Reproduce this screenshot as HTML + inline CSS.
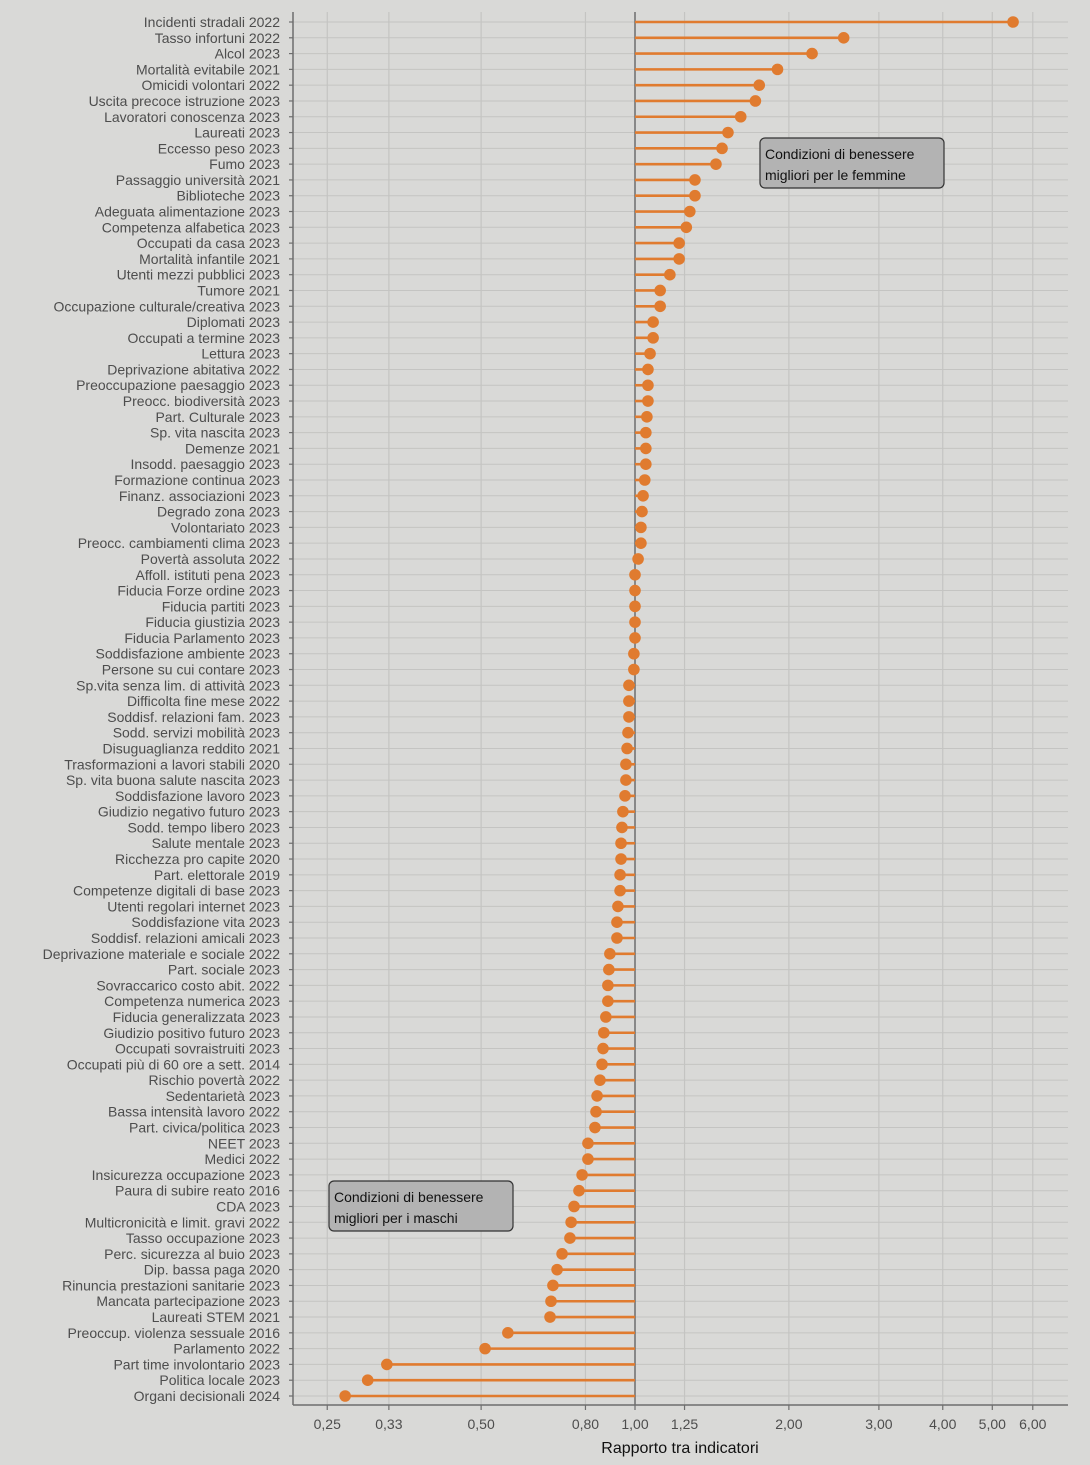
<!DOCTYPE html>
<html><head><meta charset="utf-8"><style>
html,body{margin:0;padding:0;background:#d9d9d7;}
svg{display:block;font-family:"Liberation Sans",sans-serif;}
</style></head><body>
<svg id="chart" width="1090" height="1465" viewBox="0 0 1090 1465">
<rect width="1090" height="1465" fill="#d9d9d7"/>
<g id="grid"></g><g id="marks"></g><g id="axes"></g>
</svg>
<script>
const categories=["Incidenti stradali 2022","Tasso infortuni 2022","Alcol 2023","Mortalità evitabile 2021","Omicidi volontari 2022","Uscita precoce istruzione 2023","Lavoratori conoscenza 2023","Laureati 2023","Eccesso peso 2023","Fumo 2023","Passaggio università 2021","Biblioteche 2023","Adeguata alimentazione 2023","Competenza alfabetica 2023","Occupati da casa 2023","Mortalità infantile 2021","Utenti mezzi pubblici 2023","Tumore 2021","Occupazione culturale/creativa 2023","Diplomati 2023","Occupati a termine 2023","Lettura 2023","Deprivazione abitativa 2022","Preoccupazione paesaggio 2023","Preocc. biodiversità 2023","Part. Culturale 2023","Sp. vita nascita 2023","Demenze 2021","Insodd. paesaggio 2023","Formazione continua 2023","Finanz. associazioni 2023","Degrado zona 2023","Volontariato 2023","Preocc. cambiamenti clima 2023","Povertà assoluta 2022","Affoll. istituti pena 2023","Fiducia Forze ordine 2023","Fiducia partiti 2023","Fiducia giustizia 2023","Fiducia Parlamento 2023","Soddisfazione ambiente 2023","Persone su cui contare 2023","Sp.vita senza lim. di attività 2023","Difficolta fine mese 2022","Soddisf. relazioni fam. 2023","Sodd. servizi mobilità 2023","Disuguaglianza reddito 2021","Trasformazioni a lavori stabili 2020","Sp. vita buona salute nascita 2023","Soddisfazione lavoro 2023","Giudizio negativo futuro 2023","Sodd. tempo libero 2023","Salute mentale 2023","Ricchezza pro capite 2020","Part.  elettorale 2019","Competenze digitali di base 2023","Utenti regolari internet 2023","Soddisfazione vita 2023","Soddisf. relazioni amicali 2023","Deprivazione materiale e sociale 2022","Part. sociale 2023","Sovraccarico costo abit. 2022","Competenza numerica 2023","Fiducia generalizzata 2023","Giudizio positivo futuro 2023","Occupati sovraistruiti 2023","Occupati più di 60 ore a sett. 2014","Rischio povertà 2022","Sedentarietà 2023","Bassa intensità lavoro 2022","Part. civica/politica 2023","NEET 2023","Medici 2022","Insicurezza occupazione 2023","Paura di subire reato 2016","CDA 2023","Multicronicità e limit. gravi 2022","Tasso occupazione 2023","Perc. sicurezza al buio 2023","Dip. bassa paga 2020","Rinuncia prestazioni sanitarie 2023","Mancata partecipazione 2023","Laureati STEM 2021","Preoccup. violenza sessuale 2016","Parlamento 2022","Part time involontario 2023","Politica locale 2023","Organi decisionali 2024"];
const values=[5.49,2.56,2.22,1.90,1.75,1.72,1.61,1.52,1.48,1.44,1.31,1.31,1.28,1.26,1.22,1.22,1.17,1.12,1.12,1.085,1.085,1.07,1.06,1.06,1.06,1.055,1.05,1.05,1.05,1.045,1.037,1.032,1.027,1.027,1.014,1.0,1.0,1.0,1.0,1.0,0.995,0.995,0.973,0.973,0.973,0.969,0.965,0.96,0.96,0.956,0.947,0.943,0.939,0.939,0.935,0.935,0.926,0.922,0.922,0.893,0.889,0.885,0.885,0.877,0.869,0.866,0.862,0.854,0.843,0.839,0.835,0.809,0.809,0.788,0.777,0.760,0.750,0.746,0.720,0.704,0.691,0.685,0.682,0.564,0.509,0.327,0.300,0.271];
const tickValues=[0.25,0.33,0.5,0.8,1,1.25,2,3,4,5,6];
const tickLabels=["0,25","0,33","0,50","0,80","1,00","1,25","2,00","3,00","4,00","5,00","6,00"];
const NS="http://www.w3.org/2000/svg";
const L=293,R=1068,T=12,B=1405;
function x(v){return 635+222*Math.log(v);}
function y(i){return 22+i*(1396-22)/(categories.length-1);}
function mk(tag,attrs,parent,txt){const e=document.createElementNS(NS,tag);for(const k in attrs)e.setAttribute(k,attrs[k]);if(txt!==undefined)e.textContent=txt;parent.appendChild(e);return e;}
const grid=document.getElementById('grid'),marks=document.getElementById('marks'),axes=document.getElementById('axes');
categories.forEach((c,i)=>{const g=mk('line',{x1:L,x2:R,y1:y(i),y2:y(i),stroke:'#c4c4c2','stroke-width':1},grid);

});
tickValues.forEach((v,i)=>{if(v===1)return;const g=mk('line',{x1:x(v),x2:x(v),y1:T,y2:B,stroke:'#c4c4c2','stroke-width':1.2},grid);

});
const ref=mk('line',{x1:x(1),x2:x(1),y1:T,y2:B,stroke:'#6e6e6e','stroke-width':1.5},grid);


categories.forEach((c,i)=>{
const ln=mk('line',{x1:x(1),x2:x(values[i]),y1:y(i),y2:y(i),stroke:'#e07b2f','stroke-width':2.6},marks);


const d=mk('circle',{cx:x(values[i]),cy:y(i),r:5.8,fill:'#e07b2f'},marks);


const t=mk('text',{x:280,y:y(i)+5,'text-anchor':'end','font-size':14,fill:'#4d4d4d'},axes,c);


const tk=mk('line',{x1:L-4,x2:L,y1:y(i),y2:y(i),stroke:'#6e6e6e','stroke-width':1.2},axes);

});
const ya=mk('line',{x1:L,x2:L,y1:T,y2:B,stroke:'#6e6e6e','stroke-width':1.5},axes);


const xa=mk('line',{x1:L,x2:R,y1:B,y2:B,stroke:'#6e6e6e','stroke-width':1.5},axes);


tickValues.forEach((v,i)=>{
const tk=mk('line',{x1:x(v),x2:x(v),y1:B,y2:B+5,stroke:'#6e6e6e','stroke-width':1.2},axes);


const t=mk('text',{x:x(v),y:B+24,'text-anchor':'middle','font-size':14,fill:'#4d4d4d'},axes,tickLabels[i]);

});
const xt=mk('text',{x:680,y:1453,'text-anchor':'middle','font-size':16,fill:'#111'},axes,'Rapporto tra indicatori');


function box(bx,by,l1,l2,name){const g=mk('g',{},axes);


mk('rect',{x:bx,y:by,width:184,height:50,rx:5,fill:'#b3b3b3',stroke:'#333','stroke-width':1.2},g);
mk('text',{x:bx+5,y:by+21,'font-size':14,fill:'#111'},g,l1);
mk('text',{x:bx+5,y:by+42,'font-size':14,fill:'#111'},g,l2);}
box(760,138,'Condizioni di benessere','migliori per le femmine','annotation-female');
box(329,1181,'Condizioni di benessere','migliori per i maschi','annotation-male');
</script>
</body></html>
